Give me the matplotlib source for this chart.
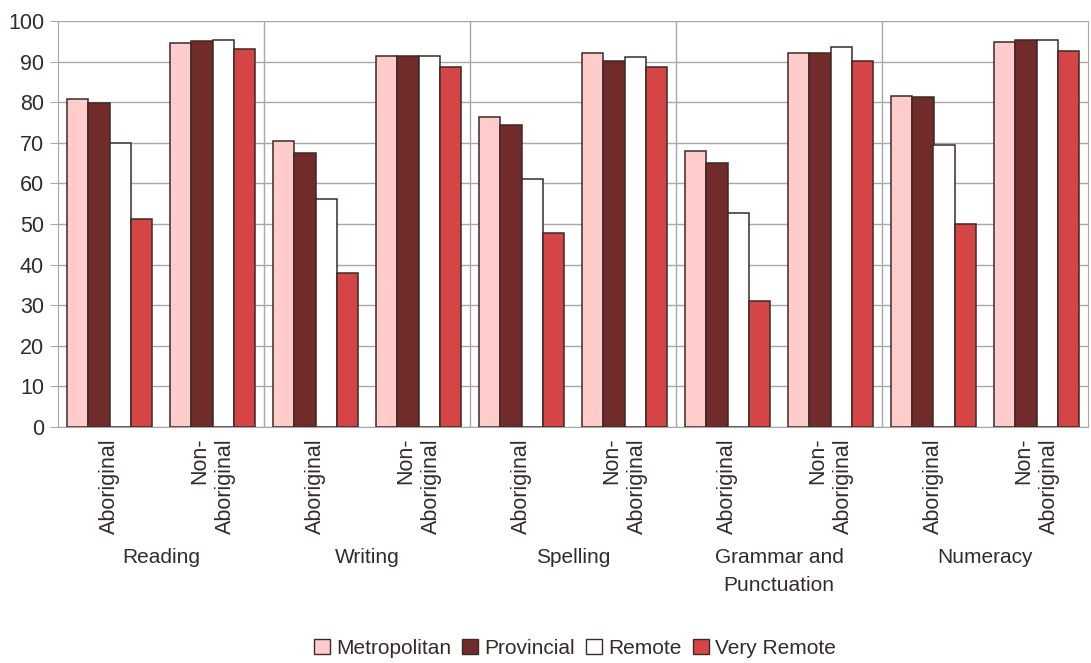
import numpy as np
import matplotlib
matplotlib.use("Agg")
import matplotlib.pyplot as plt
from matplotlib.patches import Patch

plt.rcParams['font.family'] = ['Liberation Sans', 'DejaVu Sans']

subjects = ['Reading', 'Writing', 'Spelling', 'Grammar and\nPunctuation', 'Numeracy']
groups = ['Aboriginal', 'Non-\nAboriginal']
series = ['Metropolitan', 'Provincial', 'Remote', 'Very Remote']

# one value per cluster: Reading Ab, Reading Non-Ab, Writing Ab, ...
metropolitan = [80.7, 94.6, 70.4, 91.5, 76.4, 92.0, 67.9, 92.0, 81.6, 94.9]
provincial   = [79.7, 95.0, 67.6, 91.5, 74.4, 90.1, 65.0, 92.0, 81.2, 95.4]
remote       = [70.0, 95.4, 56.2, 91.5, 61.0, 91.1, 52.8, 93.5, 69.5, 95.3]
very_remote  = [51.3, 93.0, 38.0, 88.7, 47.9, 88.7, 31.1, 90.1, 49.9, 92.6]

colors = ['#ffcccc', '#722b2b', '#ffffff', '#d64545']
edge = '#3b2a26'
txt = '#332c29'
grid = '#a8a8a8'

fig = plt.figure(figsize=(10.91, 6.63), dpi=100)
ax = fig.add_axes([58/1091, 1-427/663, (1088-58)/1091, (427-21)/663])

x = np.arange(len(metropolitan))
w = 0.205
for j, (vals, c) in enumerate(zip([metropolitan, provincial, remote, very_remote], colors)):
    ax.bar(x + (j - 1.5)*w, vals, width=w, color=c, edgecolor=edge, linewidth=1.1, zorder=3)

ax.set_xlim(-0.5, len(x) - 0.5)
ax.set_ylim(0, 100)
ax.set_yticks(range(0, 101, 10))
ax.yaxis.grid(True, color=grid, linewidth=1.0, zorder=0)
for b in np.arange(1.5, len(x) - 1, 2):
    ax.axvline(b, color=grid, linewidth=1.0, zorder=1)

ax.set_xticks([])
ax.tick_params(axis='y', length=6, color=grid, labelsize=15.5, labelcolor=txt, pad=4)
for s in ax.spines.values():
    s.set_color(grid)
ax.spines['top'].set_visible(False)

tr = ax.get_xaxis_transform()
for i in range(len(x)):
    ax.text(x[i], -0.027, groups[i % 2], transform=tr, rotation=90, ha='center', va='top',
            multialignment='right', fontsize=15.5, color=txt, linespacing=1.3)
for k, name in enumerate(subjects):
    ax.text(2*k + 0.5, -0.297, name, transform=tr, ha='center', va='top',
            fontsize=15, color=txt, linespacing=1.65)

handles = [Patch(facecolor=c, edgecolor=edge, linewidth=1.0) for c in colors]
fig.legend(handles, series, loc='center', bbox_to_anchor=(0.527, 0.022), ncol=4, frameon=False,
           fontsize=15, handlelength=0.75, handleheight=0.75, handletextpad=0.3,
           columnspacing=0.55, labelcolor=txt)

fig.savefig('out.png', dpi=100)
